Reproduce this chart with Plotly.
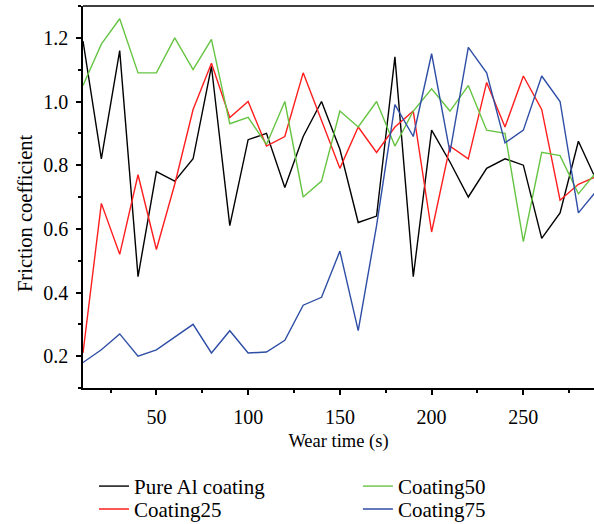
import plotly.graph_objects as go

# wear time (s)
time = list(range(10, 300, 10))

pure_al = [1.19, 0.82, 1.16, 0.45, 0.78, 0.75, 0.82, 1.11, 0.61, 0.88,
           0.90, 0.73, 0.89, 1.00, 0.85, 0.62, 0.64, 1.14, 0.45, 0.91,
           0.81, 0.70, 0.79, 0.82, 0.80, 0.57, 0.65, 0.875, 0.75]
coating25 = [0.21, 0.68, 0.52, 0.77, 0.535, 0.74, 0.975, 1.12, 0.95, 1.00,
             0.86, 0.89, 1.09, 0.94, 0.79, 0.92, 0.84, 0.92, 0.97, 0.59,
             0.86, 0.82, 1.06, 0.92, 1.08, 0.975, 0.69, 0.74, 0.765]
coating50 = [1.05, 1.18, 1.26, 1.09, 1.09, 1.20, 1.10, 1.195, 0.93, 0.95,
             0.865, 1.00, 0.70, 0.75, 0.97, 0.92, 1.00, 0.86, 0.97, 1.04,
             0.97, 1.05, 0.91, 0.90, 0.56, 0.84, 0.83, 0.71, 0.78]
coating75 = [0.18, 0.22, 0.27, 0.20, 0.22, 0.26, 0.30, 0.21, 0.28, 0.21,
             0.213, 0.25, 0.36, 0.385, 0.53, 0.28, 0.61, 0.99, 0.89, 1.15,
             0.84, 1.17, 1.09, 0.87, 0.91, 1.08, 1.00, 0.65, 0.72]

# name, values, colour, legend id, legend position (paper)
series = [
    ("Pure Al coating", pure_al, "#000000", "legend", (0.0215, -0.204)),
    ("Coating25", coating25, "#ff1e1e", "legend2", (0.0215, -0.264)),
    ("Coating50", coating50, "#66c443", "legend3", (0.538, -0.204)),
    ("Coating75", coating75, "#2e4ea6", "legend4", (0.538, -0.264)),
]

FONT = "Liberation Serif"

fig = go.Figure()
for name, vals, color, leg, _ in series:
    fig.add_trace(go.Scatter(
        x=time, y=vals, name=name, mode="lines",
        line=dict(color=color, width=1.4),
        legend=leg, showlegend=True,
    ))

axis_common = dict(
    showgrid=False, zeroline=False, automargin=False,
    showline=True, linecolor="black", linewidth=1.5,
    ticks="outside", ticklen=5, tickwidth=1.5, tickcolor="black",
    tickfont=dict(family=FONT, size=20, color="black"),
)

fig.update_xaxes(
    range=[10, 288.5], tick0=0, dtick=50, ticklabelstandoff=5,
    minor=dict(ticks="outside", ticklen=3, tickwidth=1.5, tickcolor="black", dtick=25, tick0=0),
    title=dict(text="Wear time (s)", font=dict(family=FONT, size=18.5, color="black"), standoff=7),
    **axis_common,
)
fig.update_yaxes(
    range=[0.1, 1.3], tick0=0.2, dtick=0.2, tickformat=".1f", ticklabelstandoff=4,
    minor=dict(ticks="outside", ticklen=3, tickwidth=1.5, tickcolor="black", dtick=0.1, tick0=0.1),
    **axis_common,
)

# top frame line
fig.add_shape(type="line", xref="paper", yref="paper", x0=0, x1=1, y0=1, y1=1,
              line=dict(color="black", width=1.5))

# y axis title
fig.add_annotation(
    text="Friction coefficient", textangle=-90,
    xref="paper", yref="paper", x=-0.1135, y=0.458,
    xanchor="center", yanchor="middle",
    showarrow=False, font=dict(family=FONT, size=20.5, color="black"),
)

legend_font = dict(family=FONT, size=21, color="black")
legends = {}
for _, _, _, leg, (lx, ly) in series:
    legends[leg] = dict(x=lx, y=ly, xanchor="left", yanchor="top",
                        font=legend_font, itemwidth=30,
                        bgcolor="rgba(0,0,0,0)")

fig.update_layout(
    width=594, height=524, showlegend=True,
    margin=dict(l=83, r=0, t=6, b=136, autoexpand=False),
    plot_bgcolor="white", paper_bgcolor="white",
    **legends,
)

# page without default body margin, so the figure fills the window exactly
fig.write_html("out.html", config={"displayModeBar": False},
               post_script="document.body.style.margin='0';")
